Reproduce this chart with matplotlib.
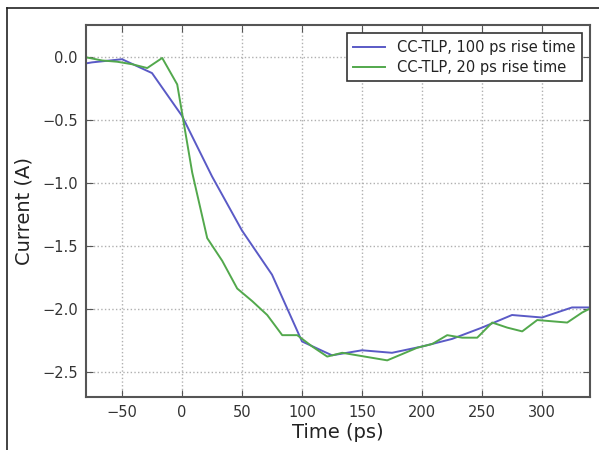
import numpy as np
import matplotlib
matplotlib.use("Agg")
import matplotlib.pyplot as plt
from matplotlib.lines import Line2D

# 100 ps rise time
t100 = [-80, -75, -50, -25, 0, 25, 50, 75, 100, 125, 150, 175, 200, 225, 250, 275, 300, 325, 350]
i100 = [-0.053, -0.045, -0.02, -0.13, -0.47, -0.95, -1.38, -1.73, -2.26, -2.37, -2.33, -2.35,
        -2.30, -2.24, -2.15, -2.05, -2.07, -1.99, -1.99]

# 20 ps rise time
t20 = [-80, -66.5, -54, -41.5, -29, -16.5, -4, 8.5, 21, 33.5, 46, 58.5, 71, 83.5, 96, 108.5,
       121, 133.5, 146, 158.5, 171, 183.5, 196, 208.5, 221, 233.5, 246, 258.5, 271, 283.5,
       296, 308.5, 321, 333.5, 346]
i20 = [-0.005, -0.03, -0.04, -0.06, -0.09, -0.01, -0.22, -0.92, -1.44, -1.62, -1.84, -1.94,
       -2.05, -2.21, -2.21, -2.30, -2.38, -2.35, -2.37, -2.39, -2.41, -2.36, -2.31, -2.28,
       -2.21, -2.23, -2.23, -2.11, -2.15, -2.18, -2.09, -2.10, -2.11, -2.03, -1.97]

col100 = '#5a5ac6'
col20 = '#52a84c'
spine = '#555555'

fig = plt.figure(figsize=(5.99, 4.5), dpi=100)
ax = fig.add_axes([0.1436, 0.118, 0.8414, 0.826])

ax.plot(t100, i100, color=col100, lw=1.4, label='CC-TLP, 100 ps rise time')
ax.plot(t20, i20, color=col20, lw=1.4, label='CC-TLP, 20 ps rise time')

ax.set_xlim(-80, 340)
ax.set_ylim(-2.7, 0.25)
ax.set_xticks([-50, 0, 50, 100, 150, 200, 250, 300])
ax.set_yticks([0.0, -0.5, -1.0, -1.5, -2.0, -2.5])
ax.set_yticklabels(['0.0', '\u22120.5', '\u22121.0', '\u22121.5', '\u22122.0', '\u22122.5'])
ax.grid(True, linestyle=':', color='#b0b0b0', lw=1.0)
ax.tick_params(direction='in', top=True, right=True, length=5, color=spine,
               labelsize=10.5, labelcolor='#333333', pad=6)
for s in ax.spines.values():
    s.set_color(spine)
    s.set_linewidth(1.5)

ax.set_xlabel('Time (ps)', fontsize=14, color='#222222', labelpad=2)
ax.set_ylabel('Current (A)', fontsize=14, color='#222222', labelpad=6)

leg = ax.legend(loc='upper right', fontsize=10.5, fancybox=False, framealpha=1,
                edgecolor='#333333', borderpad=0.45, handlelength=2.2,
                labelspacing=0.35, borderaxespad=0.55)
leg.get_frame().set_linewidth(1.2)
for txt in leg.get_texts():
    txt.set_color('#222222')

# outer frame (left and top edges only)
fig.add_artist(Line2D([7 / 599, 7 / 599], [0, 1 - 8 / 450], transform=fig.transFigure,
                      color='#222222', lw=1.2))
fig.add_artist(Line2D([7 / 599, 1], [1 - 8 / 450, 1 - 8 / 450], transform=fig.transFigure,
                      color='#222222', lw=1.2))

fig.savefig('out.png', dpi=100)
